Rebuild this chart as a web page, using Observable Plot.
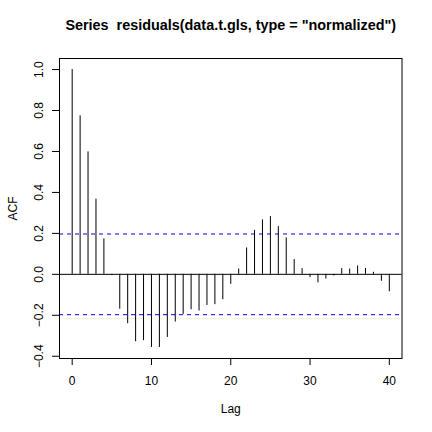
<!DOCTYPE html>
<html>
<head>
<meta charset="utf-8">
<script src="https://cdn.jsdelivr.net/npm/d3@7"></script>
<script src="https://cdn.jsdelivr.net/npm/@observablehq/plot@0.6"></script>
<style>
  html, body { margin: 0; padding: 0; background: #fff; }
  svg { display: block; }
</style>
</head>
<body>
<div id="chart"></div>
<script>
const lags = [0,1,2,3,4,5,6,7,8,9,10,11,12,13,14,15,16,17,18,19,20,21,22,23,24,25,26,27,28,29,30,31,32,33,34,35,36,37,38,39,40];
const acfValues = [1.0, 0.774, 0.598, 0.367, 0.173, -0.006, -0.170, -0.241, -0.329, -0.324, -0.357, -0.357, -0.308, -0.233, -0.196, -0.173, -0.179, -0.152, -0.148, -0.124, -0.049, 0.026, 0.129, 0.215, 0.266, 0.282, 0.233, 0.178, 0.072, 0.028, -0.016, -0.042, -0.023, -0.008, 0.028, 0.026, 0.041, 0.029, 0.010, -0.034, -0.085];
const ciBound = 0.197;
const xTicks = [0, 10, 20, 30, 40];
const yTicks = [-0.4, -0.2, 0.0, 0.2, 0.4, 0.6, 0.8, 1.0];
const titleText = 'Series  residuals(data.t.gls, type = "normalized")';

const acf = lags.map((lag, i) => ({lag, value: acfValues[i]}));
const font = "'Liberation Sans', Arial, Helvetica, sans-serif";

const chart = Plot.plot({
  width: 432,
  height: 432,
  marginLeft: 59,
  marginRight: 30.5,
  marginTop: 58,
  marginBottom: 74,
  style: {fontFamily: font, fontSize: "12px", color: "black", background: "white"},
  x: {domain: [-1.6, 41.6]},
  y: {domain: [-0.411, 1.054]},
  marks: [
    Plot.ruleY([0], {stroke: "black", strokeWidth: 1}),
    Plot.ruleY([ciBound, -ciBound], {stroke: "#0000FF", strokeWidth: 1, strokeDasharray: "4,4"}),
    Plot.ruleX(acf, {x: "lag", y1: 0, y2: "value", stroke: "black", strokeWidth: 1}),
    Plot.frame({stroke: "black", strokeWidth: 1}),
    Plot.axisX({ticks: xTicks, tickSize: 7, tickFormat: () => "", label: null, stroke: "black"}),
    Plot.axisY({ticks: yTicks, tickSize: 7, tickFormat: () => "", label: null, stroke: "black"}),
    Plot.text(xTicks, {x: d => d, frameAnchor: "bottom", dy: 26.6, lineAnchor: "bottom", text: d => String(d), fontSize: 12, fill: "black"}),
    Plot.text(yTicks, {y: d => d, frameAnchor: "left", dx: -17, rotate: -90, lineAnchor: "bottom", textAnchor: "middle", text: d => d3.format(".1f")(d), fontSize: 12, fill: "black"}),
    Plot.text(["Lag"], {frameAnchor: "bottom", dy: 54, lineAnchor: "bottom", fontSize: 12, fill: "black"}),
    Plot.text(["ACF"], {frameAnchor: "left", dx: -43, rotate: -90, lineAnchor: "bottom", textAnchor: "middle", fontSize: 12, fill: "black"}),
    Plot.text([titleText], {frameAnchor: "top", dy: -28.5, lineAnchor: "bottom", fontSize: 14.4, fontWeight: "bold", fill: "black"})
  ]
});
document.getElementById("chart").appendChild(chart);
</script>
</body>
</html>
